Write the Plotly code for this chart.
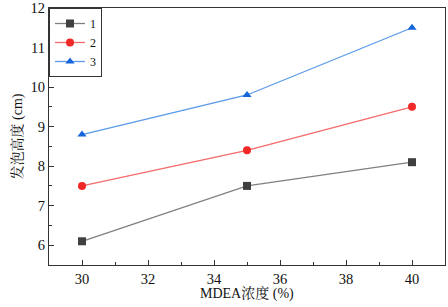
import plotly.graph_objects as go

x = [30, 35, 40]
s1 = [6.1, 7.5, 8.1]
s2 = [7.5, 8.4, 9.5]
s3 = [8.8, 9.8, 11.5]
names = ["1", "2", "3"]

fig = go.Figure()
styles = [
    ("#808080", "#404040", "square"),
    ("#f56a6a", "#f02828", "circle"),
    ("#5a9ae8", "#1565d8", "triangle-up"),
]
for ys, nm, (lc, mc, sym) in zip([s1, s2, s3], names, styles):
    fig.add_trace(go.Scatter(x=x, y=ys, name=nm, mode="lines+markers",
                             line=dict(color=lc, width=1.3),
                             marker=dict(color=mc, symbol=sym, size=8)))

tfont = dict(family="Liberation Serif, Noto Serif CJK SC, Noto Sans CJK SC", size=14, color="#111")
axis_common = dict(showline=True, linecolor="#333", linewidth=1.3, mirror=True,
                   ticks="inside", ticklen=5, tickcolor="#333", showgrid=False,
                   zeroline=False, automargin=False, ticklabeloverflow="allow",
                   tickfont=dict(family="Liberation Serif", size=14.5, color="#111"))
fig.update_xaxes(range=[29, 41], dtick=2, tick0=30, ticklabelstandoff=0,
                 minor=dict(ticks="inside", ticklen=3, dtick=1, tickcolor="#333"),
                 **axis_common)
fig.update_yaxes(range=[5.5, 12], dtick=1,
                 minor=dict(ticks="inside", ticklen=3, dtick=0.5, tickcolor="#333"),
                 title=dict(text="发泡高度 (cm)", font=tfont, standoff=4),
                 **axis_common)
plot_h = 307 - 8 - 42
fig.add_annotation(text="MDEA浓度 (%)", xref="paper", yref="paper", x=0.5,
                   y=-(293 - 265) / plot_h, yanchor="middle", showarrow=False, font=tfont)
fig.update_layout(width=448, height=307, margin=dict(l=49, r=3, t=8, b=42, autoexpand=False),
                  plot_bgcolor="white", paper_bgcolor="white",
                  legend=dict(x=0, y=1, xanchor="left", yanchor="top",
                              bordercolor="#333", borderwidth=1, bgcolor="white",
                              font=dict(family="Liberation Serif", size=12, color="#111"),
                              tracegroupgap=0, itemwidth=30),
                  showlegend=True)
fig.write_html("out.html", config={"displayModeBar": False},
               post_script="document.body.style.margin='0';")
